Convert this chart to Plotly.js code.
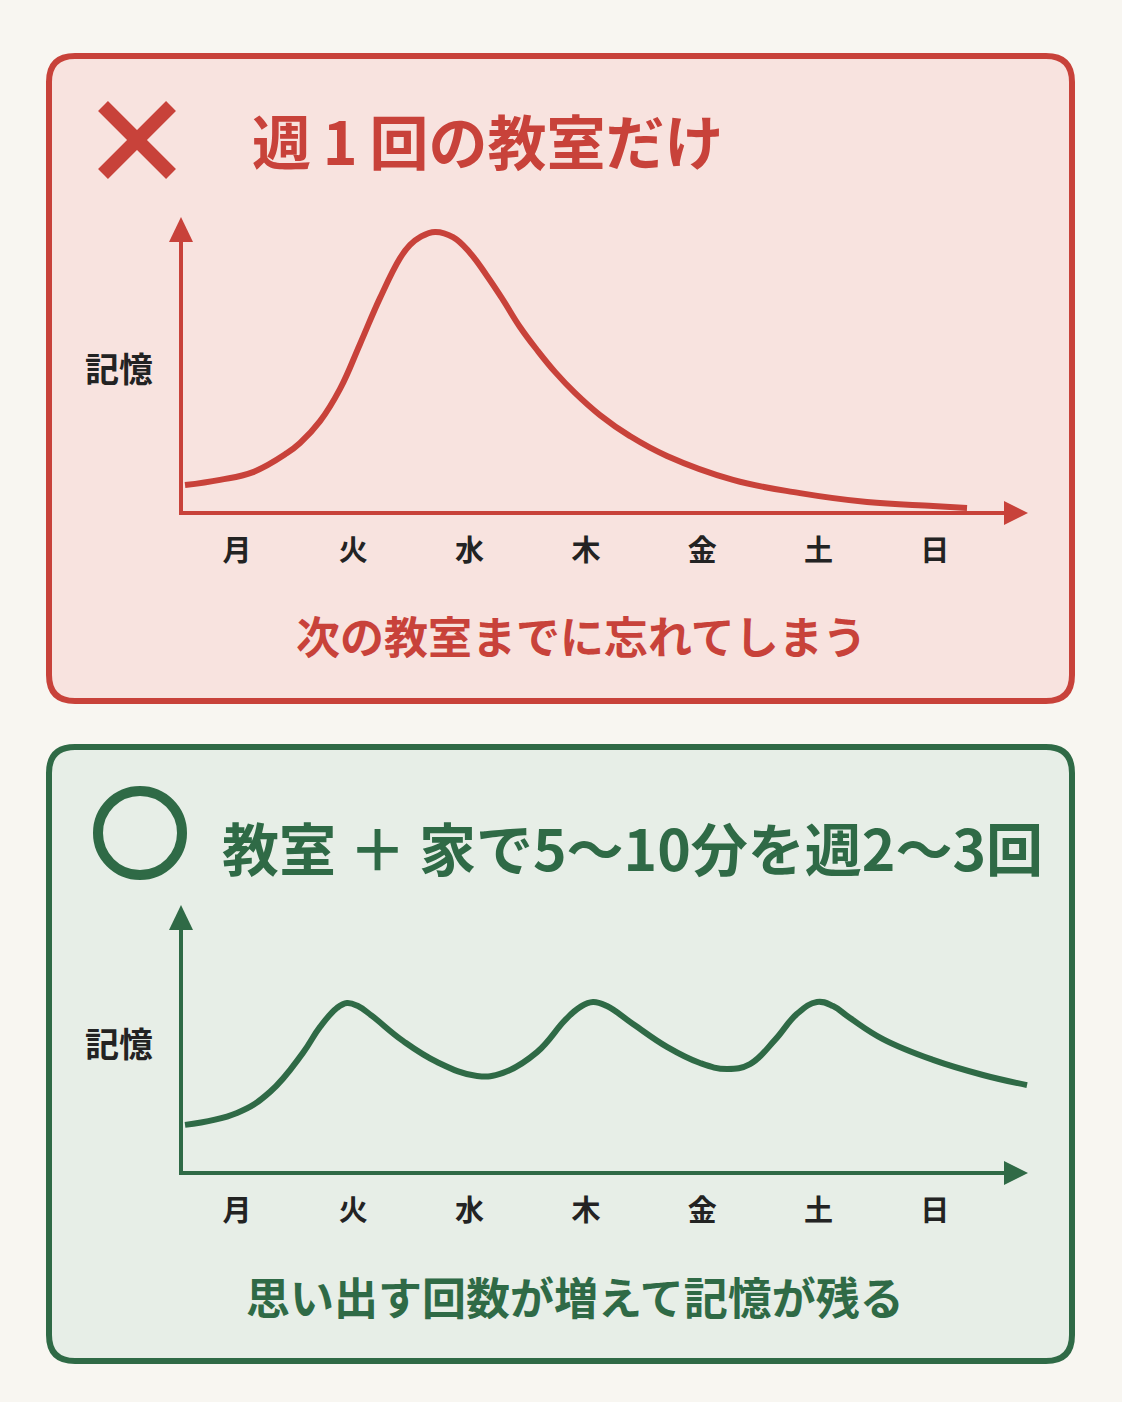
<!DOCTYPE html>
<html>
<head>
<meta charset="utf-8">
<script src="https://cdn.plot.ly/plotly-3.0.1.min.js"></script>
<style>html,body{margin:0;padding:0;background:#f8f6f1;}</style>
</head>
<body>
<div id="chart" style="width:1122px;height:1402px;"></div>
<script>
// ---- data ----
const dayLabels = ["月", "火", "水", "木", "金", "土", "日"];
const dayIndex = [0, 1, 2, 3, 4, 5, 6];

// top panel: memory with class only once a week (day position, memory level)
const onceDay = [-0.447, -0.146, 0.138, 0.430, 0.542, 0.714, 0.886, 1.058, 1.230, 1.402, 1.488, 1.574, 1.703, 1.857, 2.004, 2.150, 2.287, 2.433, 2.580, 2.734, 2.906, 3.121, 3.379, 3.697, 4.265, 4.841, 5.417, 5.985, 6.277];
const onceMemory = [9.7, 11.5, 14.2, 20.8, 24.3, 31.9, 43.1, 58.7, 74.7, 88.5, 93.1, 95.8, 97.6, 95.8, 90.3, 82.3, 74.0, 64.6, 56.6, 49.0, 41.7, 34.0, 26.7, 19.8, 11.5, 6.9, 3.8, 2.4, 1.7];

// bottom panel: class + home review 2-3 times a week
const reviewDay = [-0.447, 0, 0.284, 0.567, 0.714, 0.860, 0.946, 1.040, 1.161, 1.427, 1.720, 2.064, 2.287, 2.580, 2.821, 2.949, 3.061, 3.181, 3.405, 3.697, 3.981, 4.213, 4.411, 4.626, 4.815, 4.987, 5.125, 5.271, 5.554, 5.985, 6.414, 6.793];
const reviewMemory = [18.5, 23.1, 31.2, 46.2, 56.2, 63.5, 65.4, 64.2, 60.4, 50.8, 42.7, 37.3, 38.5, 46.5, 58.8, 63.8, 65.8, 64.2, 57.3, 48.5, 42.3, 40.0, 41.9, 51.2, 61.2, 65.8, 64.2, 59.6, 51.5, 43.5, 37.7, 33.8];

const titleTop = "週\u20091\u2009回の教室だけ";
const captionTop = "次の教室までに忘れてしまう";
const titleBottom = "教室 ＋ 家で5～10分を週2～3回";
const captionBottom = "思い出す回数が増えて記憶が残る";
const yLabel = "記憶";

// ---- styling / geometry ----
const W = 1122, H = 1402;
const RED = "#c8423a", RED_FILL = "#f8e3df";
const GREEN = "#2f6a46", GREEN_FILL = "#e7eee7";
const INK = "#232323";
const FONT = "'Noto Sans CJK JP', 'Noto Sans', sans-serif";
const X = p => p / W;
const Y = p => 1 - p / H;
const day0 = 237, dayStep = 116.3;
const xr = [(181 - day0) / dayStep, (1030 - day0) / dayStep];

function roundRect(x0, y0, x1, y1, r) {
  return `M ${X(x0 + r)},${Y(y0)} L ${X(x1 - r)},${Y(y0)} Q ${X(x1)},${Y(y0)} ${X(x1)},${Y(y0 + r)} ` +
    `L ${X(x1)},${Y(y1 - r)} Q ${X(x1)},${Y(y1)} ${X(x1 - r)},${Y(y1)} ` +
    `L ${X(x0 + r)},${Y(y1)} Q ${X(x0)},${Y(y1)} ${X(x0)},${Y(y1 - r)} ` +
    `L ${X(x0)},${Y(y0 + r)} Q ${X(x0)},${Y(y0)} ${X(x0 + r)},${Y(y0)} Z`;
}
function tri(pts) {
  return "M " + pts.map(p => `${X(p[0])},${Y(p[1])}`).join(" L ") + " Z";
}
function pline(x0, y0, x1, y1, color, w) {
  return {type: "line", xref: "paper", yref: "paper", x0: X(x0), y0: Y(y0), x1: X(x1), y1: Y(y1),
    line: {color: color, width: w}, layer: "above"};
}
function axesShapes(yAxis, yTip, color) {
  return [
    pline(181, yAxis + 2, 181, yTip + 20, color, 4),
    pline(181, yAxis, 1008, yAxis, color, 4),
    {type: "path", xref: "paper", yref: "paper", path: tri([[181, yTip], [169, yTip + 25], [193, yTip + 25]]),
      fillcolor: color, line: {width: 0}, layer: "above"},
    {type: "path", xref: "paper", yref: "paper", path: tri([[1028, yAxis], [1004, yAxis - 12], [1004, yAxis + 12]]),
      fillcolor: color, line: {width: 0}, layer: "above"}
  ];
}

const traces = [
  {x: onceDay, y: onceMemory, xaxis: "x", yaxis: "y", mode: "lines", type: "scatter",
    line: {color: RED, width: 6, shape: "spline", smoothing: 1.2}, hoverinfo: "skip"},
  {x: reviewDay, y: reviewMemory, xaxis: "x2", yaxis: "y2", mode: "lines", type: "scatter",
    line: {color: GREEN, width: 6, shape: "spline", smoothing: 1.2}, hoverinfo: "skip"}
];

const xaxisBase = {
  range: xr, tickmode: "array", tickvals: dayIndex, ticktext: dayLabels,
  showgrid: false, zeroline: false, showline: false, ticks: "outside", ticklen: 0,
  ticklabelstandoff: 12,
  tickfont: {family: FONT, size: 29, color: INK, weight: 700}, fixedrange: true
};
const yaxisBase = {showgrid: false, zeroline: false, showline: false, showticklabels: false, ticks: "", fixedrange: true};

const layout = {
  width: W, height: H,
  margin: {l: 0, r: 0, t: 0, b: 0},
  paper_bgcolor: "#f8f6f1", plot_bgcolor: "rgba(0,0,0,0)",
  showlegend: false,
  xaxis: Object.assign({}, xaxisBase, {domain: [X(181), X(1030)], anchor: "y"}),
  yaxis: Object.assign({}, yaxisBase, {domain: [Y(513), Y(217)], range: [0, (513 - 217) / 2.88], anchor: "x"}),
  xaxis2: Object.assign({}, xaxisBase, {domain: [X(181), X(1030)], anchor: "y2"}),
  yaxis2: Object.assign({}, yaxisBase, {domain: [Y(1173), Y(905)], range: [0, (1173 - 905) / 2.6], anchor: "x2"}),
  shapes: [
    {type: "path", xref: "paper", yref: "paper", path: roundRect(49, 56, 1072, 701, 26),
      fillcolor: RED_FILL, line: {color: RED, width: 6}, layer: "below"},
    {type: "path", xref: "paper", yref: "paper", path: roundRect(49, 747, 1072, 1361, 26),
      fillcolor: GREEN_FILL, line: {color: GREEN, width: 6}, layer: "below"},
    pline(103, 106, 171, 174, RED, 14),
    pline(171, 106, 103, 174, RED, 14),
    {type: "circle", xref: "paper", yref: "paper", x0: X(98), x1: X(182), y0: Y(791), y1: Y(875),
      line: {color: GREEN, width: 10}, fillcolor: "rgba(0,0,0,0)", layer: "above"},
    ...axesShapes(513, 217, RED),
    ...axesShapes(1173, 905, GREEN)
  ],
  annotations: [
    {text: titleTop, xref: "paper", yref: "paper", x: X(250), y: Y(139), xanchor: "left", yanchor: "middle",
      showarrow: false, font: {family: FONT, size: 59, color: RED, weight: 700}},
    {text: captionTop, xref: "paper", yref: "paper", x: X(581), y: Y(635), xanchor: "center", yanchor: "middle",
      showarrow: false, font: {family: FONT, size: 44, color: RED, weight: 700}},
    {text: titleBottom, xref: "paper", yref: "paper", x: X(220), y: Y(846), xanchor: "left", yanchor: "middle",
      showarrow: false, font: {family: FONT, size: 57, color: GREEN, weight: 700}},
    {text: captionBottom, xref: "paper", yref: "paper", x: X(575), y: Y(1296), xanchor: "center", yanchor: "middle",
      showarrow: false, font: {family: FONT, size: 44, color: GREEN, weight: 700}},
    {text: yLabel, xref: "paper", yref: "paper", x: X(119), y: Y(368), xanchor: "center", yanchor: "middle",
      showarrow: false, font: {family: FONT, size: 34, color: INK, weight: 700}},
    {text: yLabel, xref: "paper", yref: "paper", x: X(119), y: Y(1042), xanchor: "center", yanchor: "middle",
      showarrow: false, font: {family: FONT, size: 34, color: INK, weight: 700}}
  ]
};

Plotly.newPlot("chart", traces, layout, {displayModeBar: false, staticPlot: true});
</script>
</body>
</html>
